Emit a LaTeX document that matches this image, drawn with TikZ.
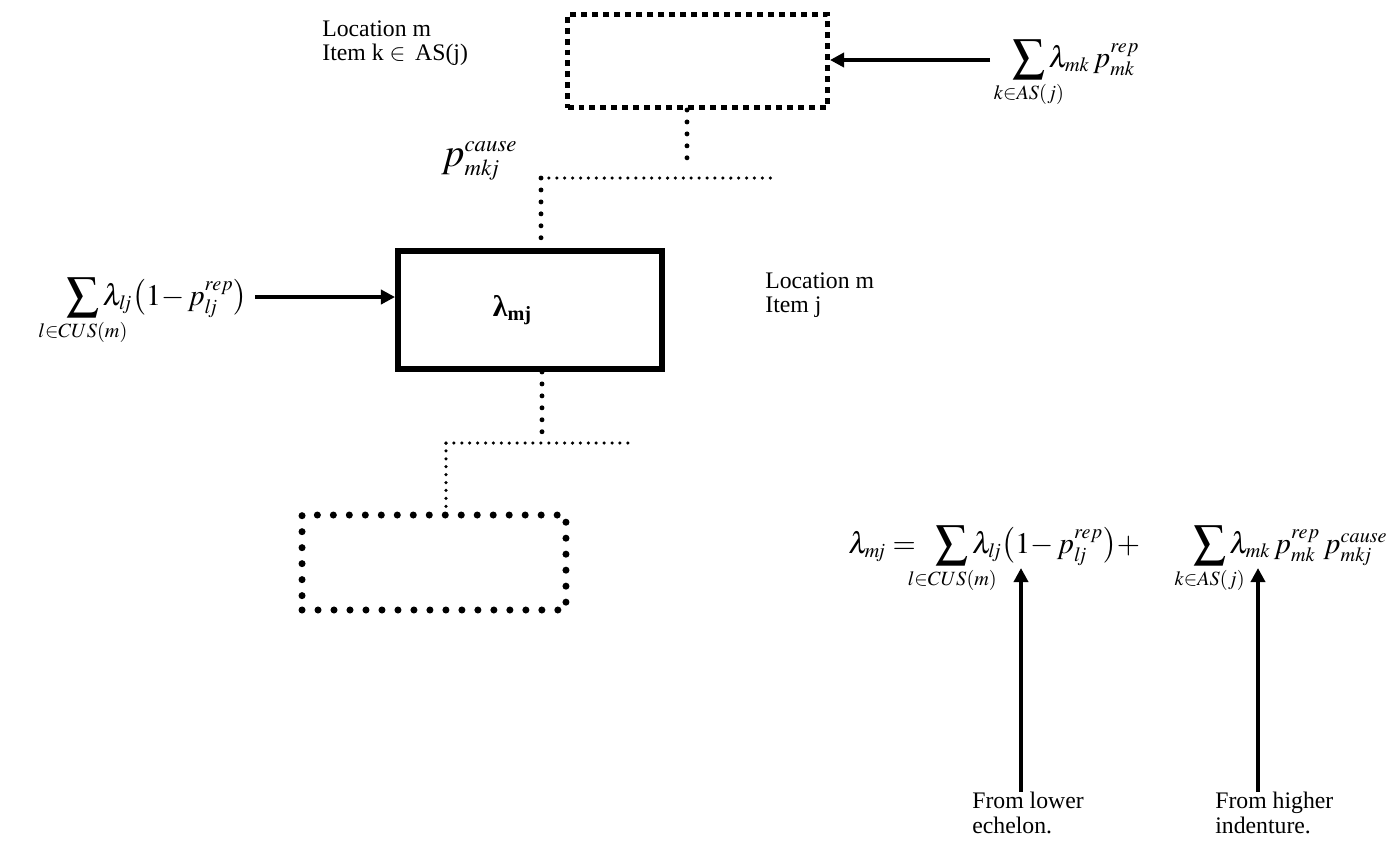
\documentclass[tikz,border=0pt]{standalone}
\usepackage{mathptmx}
\usepackage{mathtools}
\usepackage{fontspec}
\setmainfont{Liberation Serif}
\usetikzlibrary{arrows.meta,calc}

\DeclareMathSizes{17}{17}{11.5}{9}
\DeclareMathSizes{23}{23}{13}{10}
\newcommand{\bsum}{\mathop{\vcenter{\hbox{\scalebox{1.55}{$\textstyle\sum$}}}}\limits}

\begin{document}
\begin{tikzpicture}[x=0.02cm,y=-0.02cm,
	arr/.style={line width=2pt,-{Triangle[length=8pt,width=8pt]}},
	bigdots/.style={line width=2.8pt,line cap=round,dash pattern=on 0pt off 6.8pt},
	smalldots/.style={line width=2pt,line cap=round,dash pattern=on 0pt off 4.5pt},
	upperbox/.style={draw,line width=2.85pt,dash pattern=on 3.4pt off 2.85pt,minimum width=5.2cm,minimum height=1.86cm},
	mainbox/.style={draw,line width=3.4pt,minimum width=5.28cm,minimum height=2.36cm,font=\fontsize{17}{17}\selectfont},
	lowerbox/.style={draw,line width=4pt,line cap=round,dash pattern=on 0pt off 9.1pt,minimum width=5.28cm,minimum height=1.9cm},
	txt/.style={font=\fontsize{13.5}{14}\selectfont,align=left,inner sep=0pt},
	eq/.style={font=\fontsize{17}{18}\selectfont,inner sep=0pt}]

	\useasboundingbox (0,0) rectangle (1400,840);

	% boxes
	\node[upperbox] (upbox) at (697.5,61) {};
	\node[mainbox] (mj) at (530,310) {\textbf{λ\textsubscript{mj}}\kern0.7cm};
	\node[lowerbox] (lowbox) at (434,562.5) {};

	% dotted links
	\coordinate (ua) at (687,178);
	\coordinate (ub) at (541,178);
	\coordinate (uc) at (775,178);
	\draw[bigdots] (upbox.south -| ua) -- ($(ua)+(0,-10)$);
	\draw[smalldots] (ub) -- (uc);
	\draw[bigdots] (ub) -- (mj.north -| ub);

	\coordinate (la) at (446,443);
	\coordinate (lb) at (542,443);
	\coordinate (lc) at (632,443);
	\draw[bigdots] (mj.south -| lb) -- (lb);
	\draw[smalldots] (la) -- (lc);
	\draw[smalldots] (la) -- (lowbox.north -| la);

	% labels
	\node[txt,anchor=north west] (loctop) at (322,20) {Location m\\Item k $\in$\, AS(j)};
	\node[txt,anchor=north west] (locmain) at (765,272) {Location m\\Item j};
	\node[eq,anchor=base west,font=\fontsize{23}{24}\selectfont] (cause) at (441,166) {$p_{mk\mkern-2mu j}^{cause}$};

	\node[eq,anchor=base west] (upsum) at (1012,67) {$\bsum_{\mathclap{k\in AS(j)}}\lambda_{mk}\,p_{mk}^{rep}$};
	\node[eq,anchor=base west] (lowsum) at (66,305) {$\bsum_{\mathclap{l\in CUS(m)}}\lambda_{l\mkern-3mu j}\bigl({1-}\,p_{l\mkern-3mu j}^{rep}\bigr)$};
	\node[eq,anchor=base west] (balance) at (848,553) {$\lambda_{m\mkern-3mu j}=\;\;\bsum_{\mathclap{l\in CUS(m)}}\lambda_{l\mkern-3mu j}\bigl({1-}\,p_{l\mkern-3mu j}^{rep}\bigr){+}\mkern30mu\bsum_{\mathclap{k\in AS(j)}}\lambda_{mk}\,p_{mk}^{rep}\,p_{mk\mkern-2mu j}^{cause}$};

	\node[txt,anchor=north west] (fromlow) at (972,792) {From lower\\echelon.};
	\node[txt,anchor=north west] (fromhigh) at (1215,792) {From higher\\indenture.};

	% arrows
	\coordinate (upin) at (990,60);
	\draw[arr] (upin) -- (upin -| upbox.east);
	\coordinate (lowin) at (255,297);
	\draw[arr] (lowin) -- (lowin -| mj.west);
	\coordinate (al) at (1021,568);
	\coordinate (ah) at (1258,568);
	\draw[arr] (al |- fromlow.north) -- (al);
	\draw[arr] (ah |- fromhigh.north) -- (ah);

\end{tikzpicture}
\end{document}
